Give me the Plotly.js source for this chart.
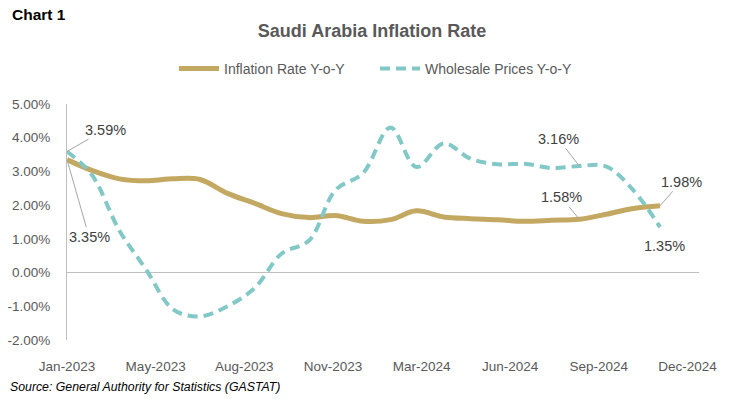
<!DOCTYPE html>
<html><head><meta charset="utf-8">
<script src="https://cdn.plot.ly/plotly-3.0.1.min.js"></script>
<style>html,body{margin:0;padding:0;background:#fff;} #chart{width:747px;height:399px;}</style>
</head><body><div id="chart"></div>
<script>
// Monthly observations (end-of-month dates), Jan-2023 .. Nov-2024
const months = ['2023-01-31','2023-02-28','2023-03-31','2023-04-30','2023-05-31','2023-06-30',
  '2023-07-31','2023-08-31','2023-09-30','2023-10-31','2023-11-30','2023-12-31',
  '2024-01-31','2024-02-29','2024-03-31','2024-04-30','2024-05-31','2024-06-30',
  '2024-07-31','2024-08-31','2024-09-30','2024-10-31','2024-11-30'];
// Inflation Rate Y-o-Y (%)
const inflation = [3.35, 3.03, 2.78, 2.72, 2.78, 2.76, 2.35, 2.05, 1.75, 1.63, 1.69, 1.52,
  1.57, 1.83, 1.65, 1.60, 1.57, 1.52, 1.55, 1.58, 1.73, 1.90, 1.98];
// Wholesale Prices Y-o-Y (%)
const wholesale = [3.59, 2.90, 1.25, 0.10, -1.10, -1.30, -1.00, -0.45, 0.56, 0.95, 2.45, 2.95,
  4.30, 3.13, 3.83, 3.38, 3.21, 3.23, 3.10, 3.16, 3.15, 2.44, 1.35];
// Axis tick labels
const tickDates = ['2023-01-31','2023-05-11','2023-08-19','2023-11-27','2024-03-06','2024-06-14','2024-09-22','2024-12-31'];
const tickLabels = ['Jan-2023','May-2023','Aug-2023','Nov-2023','Mar-2024','Jun-2024','Sep-2024','Dec-2024'];
const yTicks = [-2, -1, 0, 1, 2, 3, 4, 5];
const yTickLabels = ['-2.00%','-1.00%','0.00%','1.00%','2.00%','3.00%','4.00%','5.00%'];
const seriesNames = ['Inflation Rate Y-o-Y', 'Wholesale Prices Y-o-Y'];

const GOLD = '#C3A862', TEAL = '#82C8C6';
const FONT = 'Liberation Sans, Arial, sans-serif';

const traces = [
  {x: months, y: inflation, name: seriesNames[0], type: 'scatter', mode: 'lines',
   line: {color: GOLD, width: 5, shape: 'spline', smoothing: 1}},
  {x: months, y: wholesale, name: seriesNames[1], type: 'scatter', mode: 'lines',
   line: {color: TEAL, width: 4, shape: 'spline', smoothing: 1, dash: '10px,6px'}}
];

function lbl(arr, i, ax, ay, arrow) {
  const a = {x: months[i], y: arr[i], xref: 'x', yref: 'y',
    text: arr[i].toFixed(2) + '%', font: {family: FONT, size: 14.5, color: '#404040'},
    showarrow: arrow !== false, arrowhead: 0, arrowwidth: 1, arrowcolor: '#A6A6A6', standoff: 0};
  if (arrow === false) { a.xshift = ax; a.yshift = -ay; }
  else { a.ax = ax; a.ay = ay; }
  return a;
}
const last = months.length - 1;
// paper coords: plot spans x 67..699 px, y 340..104 px
const px = v => (v - 67) / 632, py = v => (340 - v) / 236;
const annotations = [
  lbl(wholesale, 0, 38, -22),
  lbl(inflation, 0, 22, 77),
  lbl(inflation, 19, -18, -22),
  lbl(wholesale, 19, -21, -27),
  lbl(inflation, last, 21, -24),
  lbl(wholesale, last, 4, 19, false),
  {xref: 'paper', yref: 'paper', x: px(10), y: py(15), text: '<b>Chart 1</b>', showarrow: false,
   xanchor: 'left', yanchor: 'middle', font: {family: FONT, size: 15.5, color: '#000'}},
  {xref: 'paper', yref: 'paper', x: px(8), y: py(387), xanchor: 'left', yanchor: 'middle',
   text: '<i>Source: General Authority for Statistics (GASTAT)</i>', showarrow: false,
   font: {family: FONT, size: 12.3, color: '#000'}}
];

const layout = {
  width: 747, height: 399,
  margin: {l: 67, r: 48, t: 104, b: 59},
  paper_bgcolor: '#fff', plot_bgcolor: '#fff',
  title: {text: '<b>Saudi Arabia Inflation Rate</b>', font: {family: FONT, size: 18, color: '#595959'},
    x: 372/747, xref: 'container', xanchor: 'center', y: 1 - 31/399, yref: 'container', yanchor: 'middle'},
  showlegend: true,
  legend: {orientation: 'h', xref: 'container', yref: 'container', x: 375/747, xanchor: 'center',
    y: 1 - 69/399, yanchor: 'middle', font: {family: FONT, size: 14, color: '#595959'},
    itemwidth: 40, traceorder: 'normal', entrywidth: 146, entrywidthmode: 'pixels'},
  xaxis: {type: 'date', range: ['2023-01-31', '2025-01-13'], showgrid: false, zeroline: false,
    showline: false, ticks: '', tickvals: tickDates, ticktext: tickLabels,
    tickfont: {family: FONT, size: 13.5, color: '#595959'}, ticklabelstandoff: 16},
  yaxis: {range: [-2, 5], showgrid: false, zeroline: true, zerolinecolor: '#BFBFBF', zerolinewidth: 1,
    showline: true, linecolor: '#BFBFBF', linewidth: 1, ticks: '',
    tickvals: yTicks, ticktext: yTickLabels, tickfont: {family: FONT, size: 13.5, color: '#595959'},
    ticklabelstandoff: 13},
  annotations: annotations
};

Plotly.newPlot('chart', traces, layout, {displayModeBar: false, staticPlot: true});
</script>
</body></html>
